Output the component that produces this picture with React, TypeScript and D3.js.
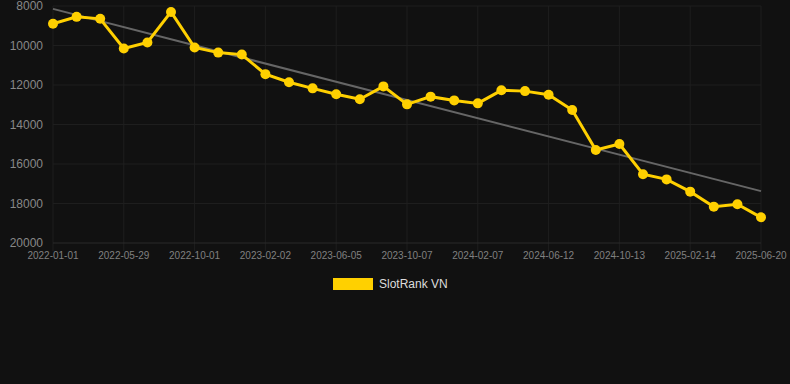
import React from "react";
import * as d3 from "d3";

const dates: string[] = [
  "2022-01-01", "2022-02-19", "2022-04-09", "2022-05-29", "2022-07-10", "2022-08-20",
  "2022-10-01", "2022-11-12", "2022-12-23", "2023-02-02", "2023-03-16", "2023-04-25",
  "2023-06-05", "2023-07-16", "2023-08-26", "2023-10-07", "2023-11-17", "2023-12-28",
  "2024-02-07", "2024-03-19", "2024-05-01", "2024-06-12", "2024-07-23", "2024-09-02",
  "2024-10-13", "2024-11-23", "2025-01-04", "2025-02-14", "2025-03-27", "2025-05-09",
  "2025-06-20",
];

const ranks: number[] = [
  8900, 8550, 8650, 10150, 9850, 8300, 10100, 10360, 10460, 11450,
  11860, 12170, 12470, 12720, 12070, 12980, 12590, 12780, 12930, 12270,
  12310, 12490, 13270, 15290, 14990, 16520, 16780, 17400, 18160, 18040,
  18700,
];

const yTicks: number[] = [8000, 10000, 12000, 14000, 16000, 18000, 20000];
const seriesName = "SlotRank VN";

const W = 790;
const H = 384;

export default function App() {
  const x = d3.scalePoint<string>().domain(dates).range([53, 761]);
  const y = d3.scaleLinear().domain([8000, 20000]).range([6, 243]);

  const labeled = dates.filter((_, i) => i % 3 === 0);

  // linear regression trend
  const n = ranks.length;
  const xs = ranks.map((_, i) => i);
  const mx = d3.mean(xs)!;
  const my = d3.mean(ranks)!;
  const slope =
    d3.sum(xs.map((xi, i) => (xi - mx) * (ranks[i] - my))) /
    d3.sum(xs.map((xi) => (xi - mx) ** 2));
  const intercept = my - slope * mx;
  const t0 = intercept;
  const t1 = intercept + slope * (n - 1);

  const line = d3
    .line<number>()
    .x((_, i) => x(dates[i])!)
    .y((d) => y(d));

  const font = "Arial, 'Liberation Sans', sans-serif";

  return (
    <svg
      width={W}
      height={H}
      style={{ position: "absolute", left: 0, top: 0, background: "#111111" }}
    >
      <rect x={0} y={0} width={W} height={H} fill="#111111" />
      {/* grid */}
      {labeled.map((d) => (
        <line
          key={"gx" + d}
          x1={x(d)}
          x2={x(d)}
          y1={y(8000)}
          y2={y(20000) + 8}
          stroke="#1e1e1e"
          strokeWidth={1}
        />
      ))}
      {yTicks.map((t) => (
        <line
          key={"gy" + t}
          x1={53}
          x2={761}
          y1={y(t)}
          y2={y(t)}
          stroke={t === 20000 ? "#2a2a2a" : "#1e1e1e"}
          strokeWidth={1}
        />
      ))}
      {/* y labels */}
      {yTicks.map((t) => (
        <text
          key={"ly" + t}
          x={43}
          y={y(t)}
          dy="0.35em"
          textAnchor="end"
          fontSize={12}
          fontFamily={font}
          fill="#888888"
        >
          {t}
        </text>
      ))}
      {/* x labels */}
      {labeled.map((d) => (
        <text
          key={"lx" + d}
          x={x(d)}
          y={259}
          textAnchor="middle"
          fontSize={10}
          fontFamily={font}
          fill="#808080"
        >
          {d}
        </text>
      ))}
      {/* trend */}
      <line
        x1={x(dates[0])}
        y1={y(t0)}
        x2={x(dates[n - 1])}
        y2={y(t1)}
        stroke="#666666"
        strokeWidth={2}
      />
      {/* series */}
      <path d={line(ranks) ?? ""} fill="none" stroke="#FFD000" strokeWidth={3} />
      {ranks.map((v, i) => (
        <circle key={"p" + i} cx={x(dates[i])} cy={y(v)} r={5} fill="#FFD000" />
      ))}
      {/* legend */}
      <rect x={333} y={278} width={40} height={12} fill="#FFD000" />
      <text
        x={379}
        y={284}
        dy="0.35em"
        fontSize={12}
        fontFamily={font}
        fill="#dddddd"
      >
        {seriesName}
      </text>
    </svg>
  );
}
